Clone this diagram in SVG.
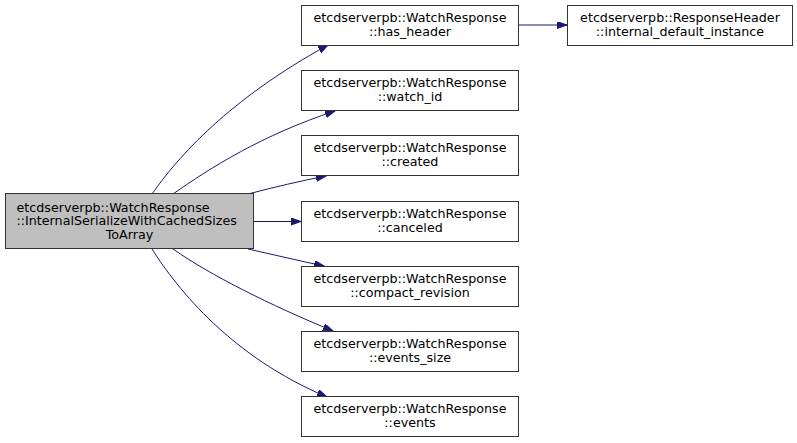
<svg xmlns="http://www.w3.org/2000/svg" width="797" height="443" viewBox="0 0 797 443">
<style>
.n rect{fill:#ffffff;stroke:#333333;stroke-width:1}
.n.main rect{fill:#bfbfbf}
text{font-family:"DejaVu Sans","Liberation Sans",sans-serif;font-size:12.7px;fill:#000}
.c text{text-anchor:middle}
.e path{fill:none;stroke:#191970;stroke-width:1;marker-end:url(#ah)}
</style>
<defs>
<marker id="ah" markerUnits="userSpaceOnUse" markerWidth="11" markerHeight="8" refX="10" refY="3.5" orient="auto" viewBox="0 0 11 8">
<path d="M0,0 L10,3.5 L0,7 z" fill="#191970" stroke="#191970" stroke-width="1"/>
</marker>
</defs>
<rect width="797" height="443" fill="#ffffff"/>
<g id="connectors" class="e">
<path d="M152,194 C178,157 228,100 328,45"/>
<path d="M173,194 C210,168 262,135 335,111"/>
<path d="M248,194 C275,187 300,181 326,176"/>
<path d="M253,221.5 L301,221.5"/>
<path d="M248,249 C275,255 300,261 324,266"/>
<path d="M173,249 C210,275 270,305 333,331"/>
<path d="M152,249 C178,290 232,357 327,397"/>
<path d="M519,25 L567,25"/>
</g>
<g id="node-main" class="n main">
<rect x="5.5" y="193.5" width="248" height="55"/>
<text x="16.5" y="211.5">etcdserverpb::WatchResponse</text>
<text x="16.5" y="225">::InternalSerializeWithCachedSizes</text>
<text x="129.5" y="238.5" text-anchor="middle">ToArray</text>
</g>
<g id="node-has_header" class="n c">
<rect x="301.5" y="5.5" width="217" height="40"/>
<text x="410" y="21.5">etcdserverpb::WatchResponse</text>
<text x="410" y="35.5">::has_header</text>
</g>
<g id="node-response_header" class="n c">
<rect x="567.5" y="5.5" width="225" height="40"/>
<text x="680" y="21.5">etcdserverpb::ResponseHeader</text>
<text x="680" y="35.5">::internal_default_instance</text>
</g>
<g id="node-watch_id" class="n c">
<rect x="301.5" y="70.5" width="217" height="40"/>
<text x="410" y="86.5">etcdserverpb::WatchResponse</text>
<text x="410" y="100.5">::watch_id</text>
</g>
<g id="node-created" class="n c">
<rect x="301.5" y="135.5" width="217" height="40"/>
<text x="410" y="151.5">etcdserverpb::WatchResponse</text>
<text x="410" y="165.5">::created</text>
</g>
<g id="node-canceled" class="n c">
<rect x="301.5" y="201.5" width="217" height="40"/>
<text x="410" y="217.5">etcdserverpb::WatchResponse</text>
<text x="410" y="231.5">::canceled</text>
</g>
<g id="node-compact_revision" class="n c">
<rect x="301.5" y="266.5" width="217" height="40"/>
<text x="410" y="282.5">etcdserverpb::WatchResponse</text>
<text x="410" y="296.5">::compact_revision</text>
</g>
<g id="node-events_size" class="n c">
<rect x="301.5" y="331.5" width="217" height="40"/>
<text x="410" y="347.5">etcdserverpb::WatchResponse</text>
<text x="410" y="361.5">::events_size</text>
</g>
<g id="node-events" class="n c">
<rect x="301.5" y="396.5" width="217" height="40"/>
<text x="410" y="412.5">etcdserverpb::WatchResponse</text>
<text x="410" y="426.5">::events</text>
</g>
</svg>
